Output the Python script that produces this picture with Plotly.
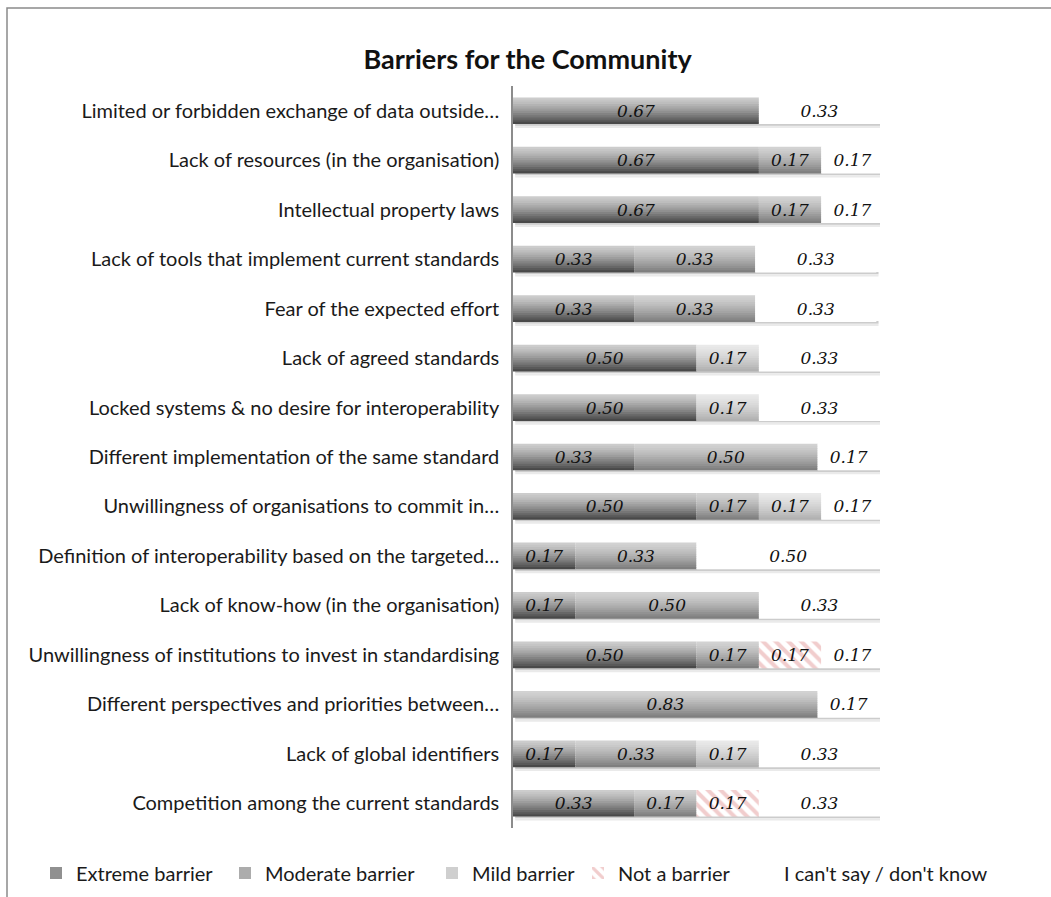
import plotly.graph_objects as go

W_PX, H_PX = 1051, 897

categories = [
    "Limited or forbidden exchange of data outside…",
    "Lack of resources (in the organisation)",
    "Intellectual property laws",
    "Lack of tools that implement current standards",
    "Fear of the expected effort",
    "Lack of agreed standards",
    "Locked systems & no desire for interoperability",
    "Different implementation of the same standard",
    "Unwillingness of organisations to commit in…",
    "Definition of interoperability based on the targeted…",
    "Lack of know-how (in the organisation)",
    "Unwillingness of institutions to invest in standardising",
    "Different perspectives and priorities between…",
    "Lack of global identifiers",
    "Competition among the current standards",
]

extreme  = [0.67, 0.67, 0.67, 0.33, 0.33, 0.50, 0.50, 0.33, 0.50, 0.17, 0.17, 0.50, 0.00, 0.17, 0.33]
moderate = [0.00, 0.17, 0.17, 0.33, 0.33, 0.00, 0.00, 0.50, 0.17, 0.33, 0.50, 0.17, 0.83, 0.33, 0.17]
mild     = [0.00, 0.00, 0.00, 0.00, 0.00, 0.17, 0.17, 0.00, 0.17, 0.00, 0.00, 0.00, 0.00, 0.17, 0.00]
not_bar  = [0.00, 0.00, 0.00, 0.00, 0.00, 0.00, 0.00, 0.00, 0.00, 0.00, 0.00, 0.17, 0.00, 0.00, 0.17]
dont_know= [0.33, 0.17, 0.17, 0.33, 0.33, 0.33, 0.33, 0.17, 0.17, 0.50, 0.33, 0.17, 0.17, 0.33, 0.33]

series_names = ["Extreme barrier", "Moderate barrier", "Mild barrier", "Not a barrier", "I can't say / don't know"]
series_vals = [extreme, moderate, mild, not_bar, dont_know]
# gradient (top colour, bottom colour) ; None = pattern / plain
grad = [((206, 206, 206), (66, 66, 66)),
        ((212, 212, 212), (122, 122, 122)),
        ((234, 234, 234), (174, 174, 174)),
        None,
        None]
# legend text start (px from left) for each entry
legend_text_x = [77, 266, 473, 619, 785]
legend_ids = ["legend", "legend2", "legend3", "legend4", "legend5"]

# layout geometry
L, R, T, B = 513, 171, 86, 69
BAR_W = 0.54
NB = 12
OVL = 0.02

fig = go.Figure()
n = len(categories)
idx = list(range(n))

# shadow under bars
totals = [sum(s[i] for s in series_vals) for i in idx]
fig.add_trace(go.Bar(y=categories, x=totals, base=[0.006] * n, orientation="h",
                     offset=BAR_W / 2, width=0.035, marker=dict(color="#cccccc", line_width=0),
                     showlegend=False, hoverinfo="skip"))
fig.add_trace(go.Bar(y=categories, x=totals, base=[0.006] * n, orientation="h",
                     offset=BAR_W / 2 + 0.035, width=0.045, marker=dict(color="#eaeaea", line_width=0),
                     showlegend=False, hoverinfo="skip"))

bases = [0.0] * n
text_traces = []
for si, (name, vals) in enumerate(zip(series_names, series_vals)):
    base_s = bases[:]
    lg = legend_ids[si]
    if grad[si] is not None:
        (r0, g0, b0), (r1, g1, b1) = grad[si]
        for k in range(NB):
            t = ((k + 0.5) / NB) ** 1.35
            col = "rgb(%d,%d,%d)" % (r0 + (r1 - r0) * t, g0 + (g1 - g0) * t, b0 + (b1 - b0) * t)
            last = (k == NB - 1)
            fig.add_trace(go.Bar(
                y=categories, x=vals, base=base_s, orientation="h",
                offset=-BAR_W / 2 + k * BAR_W / NB,
                width=BAR_W / NB + (0 if last else OVL),
                marker=dict(color=col, line_width=0),
                name=name, legendgroup=name, legend=lg, showlegend=(k == NB // 2),
                hoverinfo="skip"))
    elif si == 3:
        fig.add_trace(go.Bar(
            y=categories, x=vals, base=base_s, orientation="h",
            offset=-BAR_W / 2, width=BAR_W,
            marker=dict(color="white", line_width=0,
                        pattern=dict(shape="\\", fgcolor="#e49c9c", bgcolor="white",
                                     size=9, solidity=0.45, fillmode="overlay")),
            name=name, legendgroup=name, legend=lg, showlegend=True, hoverinfo="skip"))
    else:
        fig.add_trace(go.Bar(
            y=categories, x=vals, base=base_s, orientation="h",
            offset=-BAR_W / 2, width=BAR_W,
            marker=dict(color="white", line_width=0),
            name=name, legendgroup=name, legend=lg, showlegend=True, hoverinfo="skip"))
    text_traces.append(go.Bar(
        y=categories, x=vals, base=base_s, orientation="h",
        offset=-BAR_W / 2, width=BAR_W,
        marker=dict(color="rgba(0,0,0,0)", line_width=0),
        text=["%.2f" % v if v > 0 else "" for v in vals],
        textposition="inside", insidetextanchor="middle", textangle=0,
        constraintext="none",
        textfont=dict(family="DejaVu Serif", size=17, style="italic", color="#111111"),
        showlegend=False, hoverinfo="skip"))
    bases = [b + v for b, v in zip(bases, vals)]

for tt in text_traces:
    fig.add_trace(tt)

pw = W_PX - L - R
ph = H_PX - T - B
def px_x(p):
    return (p - L) / pw
def px_y(p):
    return 1 - (p - T) / ph

legend_font = dict(family="Lato", size=20, color="#1a1a1a")
legends = {}
for lid, tx in zip(legend_ids, legend_text_x):
    legends[lid] = dict(orientation="h", xref="container", yref="container",
                        x=(tx - 41) / W_PX, y=1 - 873 / H_PX,
                        xanchor="left", yanchor="middle", font=legend_font,
                        itemwidth=30, bgcolor="rgba(0,0,0,0)")

fig.update_layout(
    width=W_PX, height=H_PX,
    margin=dict(l=L, r=R, t=T, b=B, autoexpand=False),
    barmode="overlay",
    plot_bgcolor="white", paper_bgcolor="white",
    font=dict(family="Lato", size=20, color="#1a1a1a"),
    title=dict(text="<b>Barriers for the Community</b>", x=0.502, xref="container",
               y=1 - 60 / H_PX, yref="container", xanchor="center", yanchor="middle",
               font=dict(family="Lato", size=27, color="#111111")),
    xaxis=dict(range=[0, 1], visible=False, fixedrange=True),
    yaxis=dict(autorange="reversed", showline=True, linecolor="#8c8c8c", linewidth=1.5,
               ticks="", showgrid=False, zeroline=False, ticklabelstandoff=8,
               tickfont=dict(family="Lato", size=20, color="#1a1a1a")),
    showlegend=True,
    shapes=[dict(type="rect", xref="paper", yref="paper",
                 x0=px_x(7), x1=px_x(1070), y0=px_y(920), y1=px_y(8),
                 line=dict(color="#8a8a8a", width=1.5), fillcolor="rgba(0,0,0,0)", layer="below")],
    **legends,
)

fig.write_html("out.html")
